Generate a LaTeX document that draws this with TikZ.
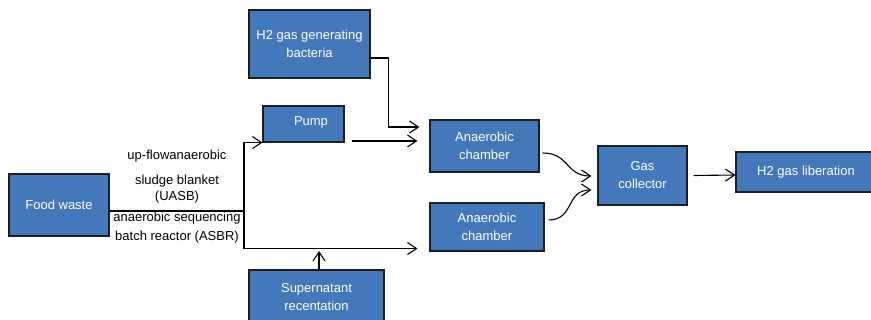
\documentclass[tikz,border=0pt]{standalone}
\usepackage{fontspec}
\setmainfont{Liberation Sans}
\usetikzlibrary{arrows.meta,calc}
\definecolor{boxblue}{RGB}{67,121,186}
\definecolor{boxedge}{RGB}{30,30,30}
\begin{document}
\begin{tikzpicture}[x=1pt,y=-1pt,
  every node/.style={font=\fontsize{13}{18}\selectfont},
  blockbox/.style={draw=boxedge,line width=1.1pt,fill=boxblue,text=white,
    align=center,inner sep=0pt},
  lbl/.style={align=center,inner sep=0pt,text=black},
  link/.style={line width=1.1pt,draw=black},
  arr/.style={link,-{Straight Barb[length=9,width=12,line width=1.1pt]}}]
\clip (0,0) rectangle (871,320);
\fill[white] (0,0) rectangle (871,320);

% process blocks
\node[blockbox,minimum width=100,minimum height=62] (food) at (59,205) {Food waste};
\node[blockbox,minimum width=121,minimum height=68] (bact) at (309.5,44) {H2 gas generating\\bacteria};
\node[blockbox,minimum width=81,minimum height=36] (pump) at (303.5,124) {};
\node[text=white,inner sep=0pt] (pumptxt) at (311,122) {Pump};
\node[blockbox,minimum width=109,minimum height=52] (c1) at (484.5,146) {Anaerobic\\chamber};
\node[blockbox,minimum width=114,minimum height=48] (c2) at (487,227) {Anaerobic\\chamber};
\node[blockbox,minimum width=135,minimum height=54] (sup) at (316.5,297) {Supernatant\\recentation};
\node[blockbox,minimum width=89,minimum height=59] (gas) at (642.5,175.5) {Gas\\collector};
\node[blockbox,minimum width=140,minimum height=40] (lib) at (806,172) {H2 gas liberation};

% reactor labels
\node[lbl] (l1) at (177,156) {up-flowanaerobic};
\node[lbl,font=\fontsize{13}{16}\selectfont] (l2) at (177,189) {sludge blanket\\(UASB)};
\node[lbl,font=\fontsize{13}{19}\selectfont] (l3) at (177,227.5) {anaerobic sequencing\\batch reactor (ASBR)};

% feed split
\coordinate (j) at (244,211);
\draw[link] (food.east |- j) -- (j);
\draw[arr] (j) |- (pump.south west);
\draw[arr] (j) |- ($(c2.south west)+(-12,-3)$);
\draw[arr] (sup.north -| 319,0) -- (319,251);

% bacteria and pump into first chamber
\draw[arr] ($(bact.east)+(0,14)$) -- ++(18,0) |- ($(c1.west)+(-10,-19)$);
\draw[arr] ($(pump.east)+(7,17)$) -- ($(c1.west)+(-12,-5)$);

% chambers to collector
\draw[arr] ($(c1.east)+(3,7)$) .. controls ($(c1.east)+(30,7)$) and ($(gas.west)+(-32,0.5)$) .. ($(gas.west)+(-6,0.5)$);
\draw[arr] ($(c2.east)+(4,-7)$) .. controls ($(c2.east)+(30,-7)$) and ($(gas.west)+(-32,14.5)$) .. ($(gas.west)+(-6,14.5)$);

% collector to liberation
\draw[arr] ($(gas.east)+(6,0)$) -- ($(lib.west)+(0,3)$);
\end{tikzpicture}
\end{document}
